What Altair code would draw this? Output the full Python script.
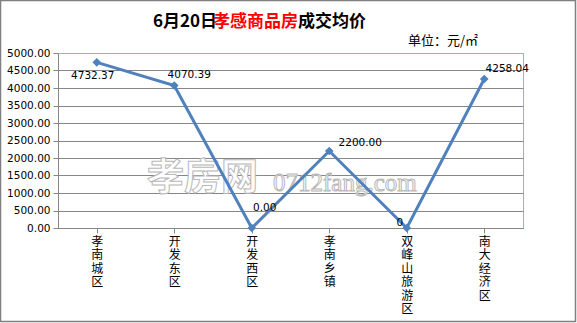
import altair as alt
import pandas as pd

categories = ["孝南城区", "开发东区", "开发西区", "孝南乡镇", "双峰山旅游区", "南大经济区"]
values = [4732.37, 4070.39, 0.00, 2200.00, 0.00, 4258.04]
label_text = ["4732.37", "4070.39", "0.00", "2200.00", "0", "4258.04"]
y_ticks = [0, 500, 1000, 1500, 2000, 2500, 3000, 3500, 4000, 4500, 5000]

title_parts = ["6月20日", "孝感商品房", "成交均价"]
unit_text = "单位：元/㎡"
watermark_cn = "孝房网"
watermark_en = "0712fang.com"

df = pd.DataFrame({"cat": categories, "val": values, "lab": label_text})

W, H = 465, 175
PL, PT = 58, 53
BLUE = "#4F81BD"
GRID = "#868686"
CJK = "Noto Sans CJK SC"
NUM = "DejaVu Sans"

base = alt.Chart(df)
x_enc = alt.X(
    "cat:N",
    sort=categories,
    scale=alt.Scale(paddingInner=0, paddingOuter=0),
    axis=alt.Axis(
        title=None,
        labelAngle=0,
        labelExpr="split(datum.label, '')",
        labelFont=CJK,
        labelFontSize=12,
        labelLineHeight=13.5,
        labelColor="black",
        labelPadding=3,
        labelOverlap=False,
        bandPosition=1,
        tickSize=5,
        tickColor=GRID,
        domainColor=GRID,
        grid=False,
    ),
)
y_enc = alt.Y(
    "val:Q",
    scale=alt.Scale(domain=[0, 5000], nice=False),
    axis=alt.Axis(
        title=None,
        values=y_ticks,
        format=".2f",
        labelFont=NUM,
        labelFontSize=10.5,
        labelColor="black",
        labelPadding=3,
        labelOverlap=False,
        tickSize=5,
        tickColor=GRID,
        domainColor=GRID,
        gridColor=alt.condition("datum.value >= 5000", alt.value("#95B3D7"), alt.value(GRID)),
        gridOpacity=1,
    ),
)

frame = alt.Chart(pd.DataFrame({"k": [0]})).mark_rect(
    fillOpacity=0, stroke="#7f7f7f", strokeWidth=1.5
).encode(
    x=alt.value(-PL + 0.5), x2=alt.value(577 - PL - 1.5),
    y=alt.value(-PT + 0.5), y2=alt.value(323 - PT - 1.5),
)

wm1 = alt.Chart(pd.DataFrame({"t": [watermark_cn]})).mark_text(
    font=CJK, fontSize=37, fontWeight="bold", align="left", baseline="middle",
    fill="white", stroke="#b8b8b8", strokeWidth=1,
).encode(text="t:N", x=alt.value(147 - PL), y=alt.value(179 - PT))
wm2 = alt.Chart(pd.DataFrame({"t": [watermark_en]})).mark_text(
    font="Liberation Serif", fontSize=25, align="left", baseline="middle",
    fill="white", stroke="#b8b8b8", strokeWidth=1,
).encode(text="t:N", x=alt.value(273 - PL), y=alt.value(183 - PT))

line = base.mark_line(color=BLUE, strokeWidth=3).encode(x=x_enc, y=y_enc)
pts = base.mark_point(shape="diamond", filled=True, color=BLUE, size=75, opacity=1).encode(
    x=x_enc, y=y_enc
)

offsets = [(-4, 14), (15, -11), (13, -20), (31, -8), (-7, -5), (23, -10)]
label_layers = []
for c, (dx, dy) in zip(categories, offsets):
    label_layers.append(
        base.transform_filter(alt.datum.cat == c)
        .mark_text(font=NUM, fontSize=10.5, color="black", dx=dx, dy=dy)
        .encode(x=x_enc, y=y_enc, text="lab:N")
    )

t_colors = ["black", "#FF0000", "black"]
t_lefts = [153, 213, 298]
title_layers = []
for part, col, lx in zip(title_parts, t_colors, t_lefts):
    title_layers.append(
        alt.Chart(pd.DataFrame({"t": [part]})).mark_text(
            font=CJK, fontSize=17, fontWeight="bold", color=col,
            align="left", baseline="middle",
        ).encode(text="t:N", x=alt.value(lx - PL), y=alt.value(22 - PT))
    )
unit = alt.Chart(pd.DataFrame({"t": [unit_text]})).mark_text(
    font=CJK, fontSize=13, color="black", align="left", baseline="middle"
).encode(text="t:N", x=alt.value(408 - PL), y=alt.value(41 - PT))

chart = alt.layer(
    frame, wm1, wm2, line, pts, *label_layers, *title_layers, unit
).properties(
    width=W, height=H,
    autosize=alt.AutoSizeParams(type="none"),
    padding={"left": PL, "top": PT, "right": 577 - PL - W, "bottom": 323 - PT - H},
    background="white",
).configure_view(stroke="#95B3D7", strokeWidth=1)

chart.save("out.html", embed_options={"renderer": "svg", "actions": False})
